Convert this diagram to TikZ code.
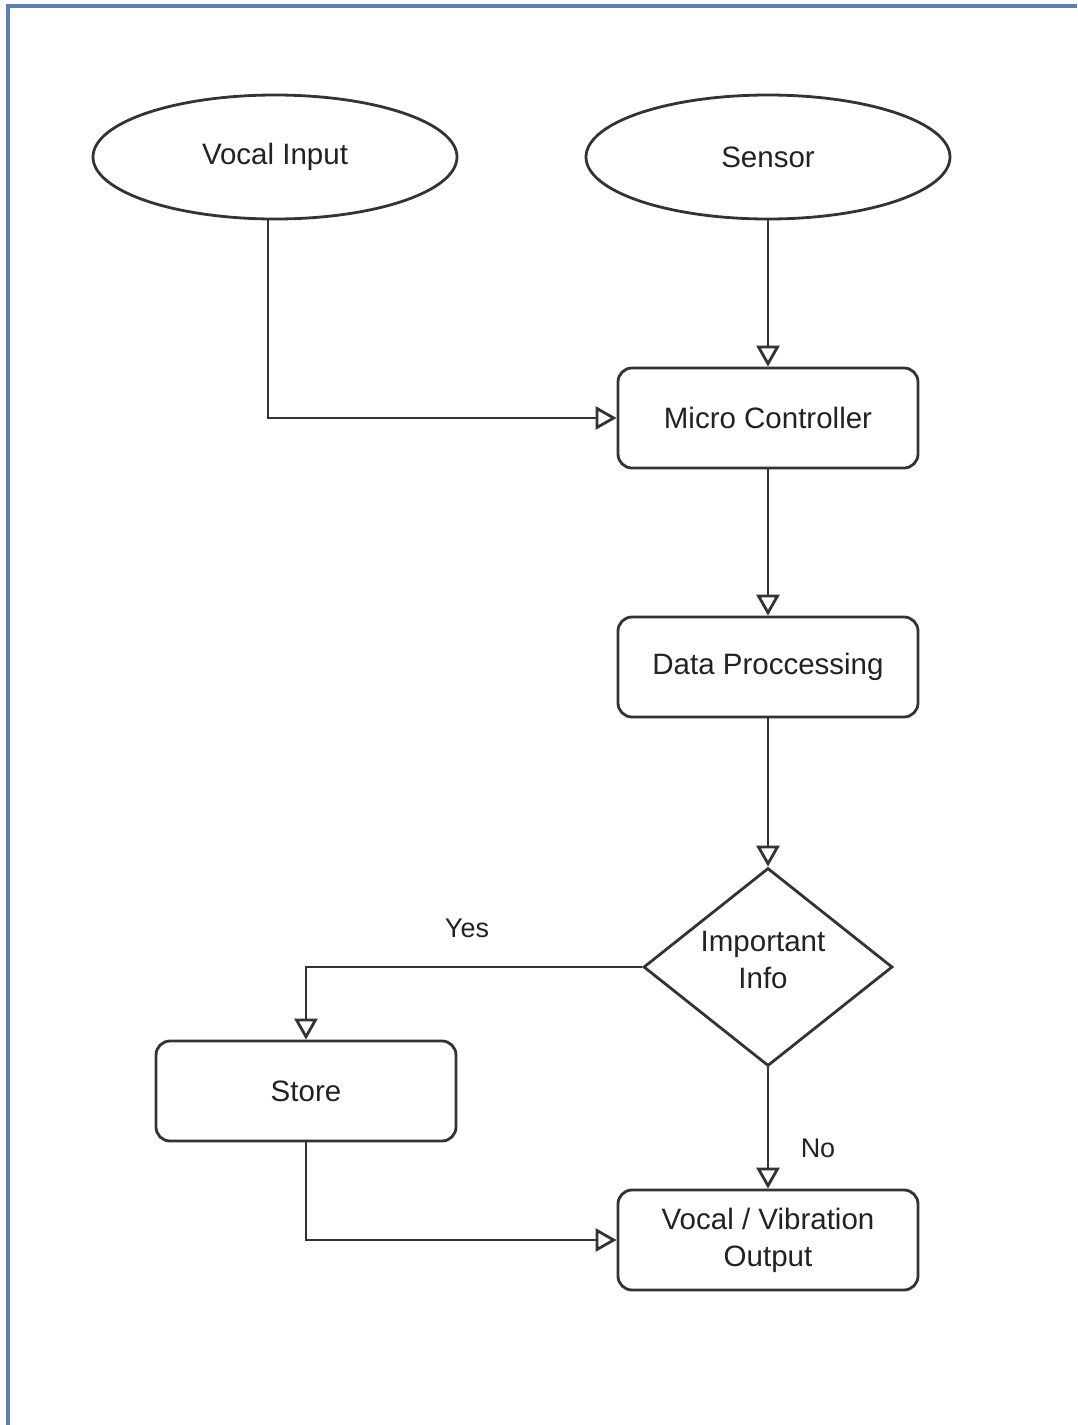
\documentclass[tikz,border=0pt]{standalone}
\usepackage{fontspec}
\setmainfont{Liberation Sans}
\usetikzlibrary{shapes.geometric,arrows.meta,calc}

\definecolor{linegray}{HTML}{333333}
\definecolor{textgray}{HTML}{222222}
\definecolor{frameblue}{HTML}{5A80B6}

\tikzset{
  every node/.style={font=\fontsize{29.5}{37}\selectfont, text=textgray, align=center},
  terminal/.style={ellipse, draw=linegray, line width=2.8pt, fill=white,
    minimum width=364pt, minimum height=124pt, inner sep=0pt},
  process/.style={rectangle, rounded corners=14pt, draw=linegray, line width=2.8pt,
    fill=white, minimum width=300pt, minimum height=100pt, inner sep=0pt},
  decision/.style={diamond, draw=linegray, line width=2.8pt, fill=white,
    aspect=1.26, minimum width=249pt, minimum height=198pt, inner sep=0pt},
  flow/.style={draw=linegray, line width=2.8pt,
    -{Triangle[open, length=21pt, width=23pt, fill=white]}},
  label/.style={font=\fontsize{27}{32}\selectfont}
}

\begin{document}
\begin{tikzpicture}[x=1pt, y=-1pt]
  \useasboundingbox (0,0) rectangle (1077,1425);
  \fill[white] (0,0) rectangle (1077,1425);

  % frame lines along the top and left edges
  \draw[frameblue, line width=3.5pt] (8,1425) -- (8,6) -- (1077,6);

  % nodes
  \node[terminal] (vocal)  at (275,157) {Vocal Input};
  \node[terminal] (sensor) at (768,157) {Sensor};
  \node[process]  (mc)     at (768,418) {Micro Controller};
  \node[process]  (dp)     at (768,667) {Data Proccessing};
  \node[decision] (imp)    at (768,967) {};
  \node at (763,960) {Important\\Info};
  \node[process]  (store)  at (306,1091) {Store};
  \node[process]  (out)    at (768,1240) {Vocal / Vibration\\Output};

  % connectors
  \coordinate (vocalfoot) at ($(vocal.south)+(-7,0)$);
  \draw[flow] (vocalfoot) |- (mc.west);
  \draw[flow] (sensor.south) -- (mc.north);
  \draw[flow] (mc.south) -- (dp.north);
  \draw[flow] (dp.south) -- (imp.north);
  \draw[flow] (imp.west) -| (store.north);
  \draw[flow] (imp.south) -- (out.north);
  \draw[flow] (store.south) |- (out.west);

  % branch labels
  \node[label] (yes) at (467,928) {Yes};
  \node[label] (no)  at (818,1148) {No};
\end{tikzpicture}
\end{document}
